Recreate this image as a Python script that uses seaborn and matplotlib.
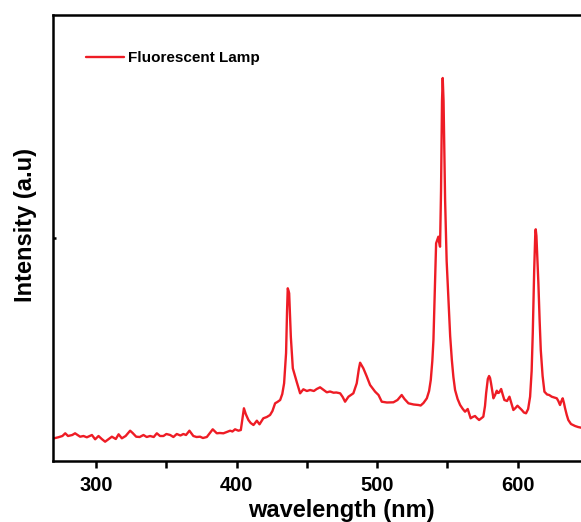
import matplotlib
matplotlib.use("Agg")
import matplotlib.pyplot as plt
import numpy as np
import pandas as pd
import seaborn as sns

# Emission spectrum of a fluorescent lamp (wavelength in nm, intensity in arbitrary units)
wavelength = [
    270, 273, 276, 278, 280, 283, 285, 288.6, 291, 293.4, 297, 299.3, 301.7, 304,
    306.4, 309, 311.2, 314, 316, 318.3, 321, 324.2, 326, 328.5, 331, 333.7, 336,
    338.4, 341, 343.2, 345.5, 347.9, 350, 352.7, 355, 357.4, 360, 362.1, 364,
    366.4, 369.2, 371.5, 374, 376, 378.8, 381, 383, 385.9, 388, 390.6, 393, 395.4,
    397, 398.9, 401.3, 403, 404.4, 405.2, 406.5, 408.4, 410, 412, 414.4, 416.3,
    419, 421.5, 423.8, 425.5, 427.4, 429, 431, 432.5, 433.8, 435.2, 435.9, 436.4,
    437.0, 437.4, 438.0, 438.6, 440, 442.8, 445.2, 447.5, 450, 452.3, 455, 457,
    459.4, 462, 464.2, 466.5, 469, 471, 473.7, 475.5, 477.2, 479.6, 483.1, 485.5,
    487, 487.9, 490.2, 492.5, 495, 498.6, 501, 503.3, 507, 511.6, 514.5, 517.5,
    519.5, 522.3, 526, 529.4, 531, 533, 535.4, 537, 538.2, 539.3, 540.1, 541, 542,
    543, 543.6, 544.3, 544.8, 545.5, 546.2, 546.7, 547.3, 548, 548.4, 549.5,
    550.8, 552, 553.2, 554.3, 555.5, 557.3, 559.1, 561, 562.6, 564.5, 566.6, 568,
    569.7, 571, 572.6, 574, 575.6, 576.8, 577.6, 578.8, 579.7, 580.4, 581.1,
    582.8, 584, 585.2, 586, 586.8, 588.3, 589.5, 590.6, 592.5, 594.2, 595.5, 597,
    598.5, 599.9, 601.5, 603, 604.5, 606, 607.5, 608.9, 610, 610.8, 611.8, 612.6,
    612.9, 613.4, 614.8, 615.7, 616.5, 617.8, 619.1, 621, 622.5, 624.3, 626,
    627.9, 629, 630.2, 631.2, 632.1, 633, 633.8, 635, 636.1, 638, 640.9, 643,
    645.2, 650,
]
intensity = [
    22.7, 23.7, 25, 27.7, 25, 26, 27.7, 24.3, 25, 23.7, 26, 21.7, 25, 22,
    19.3, 22, 24.3, 22, 26.7, 22.7, 25, 30.3, 28, 24.3, 24, 26, 24,
    25, 24, 27.7, 25, 25, 27, 26, 24, 27, 25.5, 27, 26,
    30.3, 25, 24, 24.3, 23, 24, 28, 31.7, 27.7, 28, 27.7, 29, 30.3,
    29.5, 31.7, 30.3, 31, 45, 52.7, 47, 41, 38, 36, 40.3, 36.7,
    42.7, 44, 46, 50, 57.7, 59, 61, 67, 77.7, 108, 150, 172.7,
    170, 167.7, 145, 124, 92.7, 79, 67.7, 71.7, 70, 71, 70, 72,
    73.7, 71, 68.7, 69.5, 68.3, 68.5, 67.7, 64, 59.3, 64.3, 67.7, 77.7,
    92, 98.3, 92.7, 85, 76, 69.3, 66, 59.3, 58.5, 58.7, 61, 66,
    62, 57.7, 56.5, 56, 55.5, 58, 62.7, 70, 81, 100, 121, 165, 217.7,
    222, 224.3, 218, 214.3, 270, 360, 383, 360, 300, 261, 200,
    161, 125, 101, 84, 71, 62, 56, 52, 49.3, 52, 42.7, 44,
    45, 43, 41, 42.5, 44.3, 55, 67.7, 82, 85, 83, 77.7,
    62.7, 66, 70.3, 68, 68.3, 72, 66, 61, 60, 64.3, 58, 51,
    53, 55.3, 53, 51, 48.5, 47.7, 52, 64.3, 90, 127.7, 190, 228,
    231.7, 225, 177.7, 140, 111, 85, 69.3, 66.5, 66, 64.3, 63.5,
    62.7, 60, 56, 60, 62.7, 58, 52.7, 46, 41, 37, 35, 34,
    33.3, 32,
]
series_label = "Fluorescent Lamp"
x_ticks = [300, 400, 500, 600]
x_minor_ticks = [350, 450, 550]

spectrum = pd.DataFrame({"wavelength": wavelength, "intensity": intensity})

sns.set_style("ticks")
plt.rcParams["font.family"] = ["Liberation Sans", "DejaVu Sans"]
plt.rcParams["font.weight"] = "bold"
plt.rcParams["text.color"] = "black"
plt.rcParams["axes.labelcolor"] = "black"
plt.rcParams["xtick.color"] = "black"
plt.rcParams["ytick.color"] = "black"

fig = plt.figure(figsize=(5.81, 5.22), dpi=100)
ax = fig.add_axes([53 / 581, 61 / 522, 576 / 581, 446 / 522])

sns.lineplot(data=spectrum, x="wavelength", y="intensity", color="#EE1C25",
             linewidth=1.7, label=series_label, ax=ax, sort=False)

ax.set_xlim(269.3, 679.3)
ax.set_ylim(0, 446)

for side in ("left", "bottom", "top", "right"):
    ax.spines[side].set_linewidth(1.8)
    ax.spines[side].set_color("black")

ax.set_xticks(x_ticks)
ax.set_xticklabels([str(t) for t in x_ticks], fontsize=14.5, fontweight="bold",
                   color="black")
ax.set_xticks(x_minor_ticks, minor=True)
ax.tick_params(axis="x", which="both", direction="out", length=5, width=1.8,
               pad=6, colors="black")
ax.set_yticks([223])
ax.set_yticklabels([""])
ax.tick_params(axis="y", which="major", direction="in", length=2.5, width=1.8)

ax.set_xlabel("wavelength (nm)", fontsize=17, fontweight="bold", labelpad=3,
              color="black")
ax.set_ylabel("Intensity (a.u)", fontsize=17, fontweight="bold", color="black")
ax.yaxis.set_label_coords(-0.028, 0.53)

leg = ax.legend(loc="center left", bbox_to_anchor=(0.0573, 0.9036), frameon=False,
                borderpad=0, borderaxespad=0, handlelength=2.5, handletextpad=0.25,
                prop={"size": 11, "weight": "bold"})
for txt in leg.get_texts():
    txt.set_color("black")

fig.savefig("out.png", dpi=100)
